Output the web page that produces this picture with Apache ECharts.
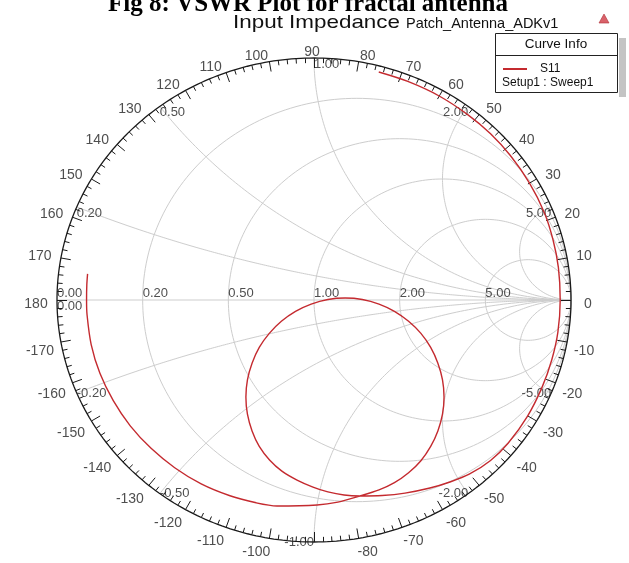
<!DOCTYPE html>
<html>
<head>
<meta charset="utf-8">
<script src="https://cdn.jsdelivr.net/npm/echarts@6/dist/echarts.min.js"></script>
<style>
  html, body { margin: 0; padding: 0; background: #ffffff; }
  #chart { width: 629px; height: 563px; }
</style>
</head>
<body>
<div id="chart"></div>
<script>
// Normalised resistance circles and reactance arcs of the Smith grid
const resistanceValues = [0.2, 0.5, 1, 2, 5];
const resistanceLabels = ['0.20', '0.50', '1.00', '2.00', '5.00'];
const reactanceValues = [0.2, 0.5, 1, 2, 5, -0.2, -0.5, -1, -2, -5];
const reactanceLabels = ['0.20', '0.50', '1.00', '2.00', '5.00', '-0.20', '-0.50', '-1.00', '-2.00', '-5.00'];
// Angle scale of the reflection coefficient (degrees)
const angleLabels = [0, 10, 20, 30, 40, 50, 60, 70, 80, 90, 100, 110, 120, 130, 140, 150, 160, 170, 180,
  -10, -20, -30, -40, -50, -60, -70, -80, -100, -110, -120, -130, -140, -150, -160, -170];

// S11 trace of Patch_Antenna_ADKv1 as reflection coefficient (real / imaginary)
const s11Re = [0.252, 0.365, 0.487, 0.598, 0.687, 0.764, 0.838, 0.896, 0.930, 0.951, 0.958, 0.949, 0.925, 0.888,
  0.831, 0.756, 0.687, 0.604, 0.529, 0.451, 0.354, 0.265, 0.179,
  0.117, 0.054, -0.004, -0.066, -0.125, -0.173, -0.213, -0.241, -0.259, -0.265, -0.259, -0.241, -0.213, -0.174, -0.127,
  -0.072, -0.011, 0.054, 0.121, 0.188, 0.253, 0.313, 0.368, 0.416, 0.454, 0.482, 0.500, 0.506, 0.500, 0.482,
  0.454, 0.416, 0.368, 0.313, 0.253, 0.179,
  0.093, 0.012, -0.144, -0.225, -0.327, -0.439, -0.542, -0.634, -0.715, -0.781, -0.833, -0.867, -0.883,
  -0.885, -0.884, -0.881];
const s11Im = [0.942, 0.903, 0.843, 0.766, 0.687, 0.597, 0.484, 0.362, 0.249, 0.134, 0.000, -0.133, -0.248, -0.359,
  -0.480, -0.591, -0.663, -0.720, -0.752, -0.777, -0.798, -0.808, -0.810,
  -0.806, -0.793, -0.773, -0.744, -0.707, -0.661, -0.605, -0.541, -0.472, -0.401, -0.330, -0.261, -0.196, -0.138, -0.088,
  -0.047, -0.017, 0.002, 0.008, 0.002, -0.017, -0.047, -0.088, -0.138, -0.196, -0.261, -0.330, -0.401, -0.472, -0.541,
  -0.605, -0.664, -0.714, -0.755, -0.785, -0.810,
  -0.835, -0.847, -0.851, -0.838, -0.809, -0.760, -0.693, -0.613, -0.520, -0.416, -0.303, -0.184, -0.062,
  0.000, 0.062, 0.108];

// Plot frame: the unit circle fills the cartesian grid
const plot = { left: 57, top: 58, width: 514, height: 484 };
const rx = plot.width / 2, ry = plot.height / 2;
const cx0 = plot.left + rx, cy0 = plot.top + ry;
const gridColor = '#cdcdcd';
const labelFont = 'Liberation Sans, Arial, sans-serif';

function gammaOf(r, x) {
  const d = (r + 1) * (r + 1) + x * x;
  return [(r * r - 1 + x * x) / d, 2 * x / d];
}
function circlePoints(cx, cy, rad, n) {
  const pts = [];
  for (let i = 0; i <= n; i++) {
    const a = 2 * Math.PI * i / n;
    pts.push([cx + rad * Math.cos(a), cy + rad * Math.sin(a)]);
  }
  return pts;
}
// constant-reactance arc from the rim (r = 0) to the open-circuit point
function reactanceArc(x, n) {
  const s = Math.sign(x), ax = Math.abs(x);
  const c = [1, 1 / ax], rad = 1 / ax;
  const rim = gammaOf(0, ax);
  let a0 = Math.atan2(rim[1] - c[1], rim[0] - c[0]);
  if (a0 < 0) a0 += 2 * Math.PI;
  const a1 = 1.5 * Math.PI;
  const pts = [];
  for (let i = 0; i <= n; i++) {
    const a = a0 + (a1 - a0) * i / n;
    pts.push([c[0] + rad * Math.cos(a), s * (c[1] + rad * Math.sin(a))]);
  }
  return pts;
}
function gridLine(data, color, width, z) {
  return {
    type: 'line', data: data, showSymbol: false, symbol: 'none', silent: true,
    animation: false, z: z || 1, clip: false,
    lineStyle: { color: color, width: width }
  };
}

const series = [];
resistanceValues.forEach(r => {
  series.push(gridLine(circlePoints(r / (1 + r), 0, 1 / (1 + r), 240), gridColor, 1));
});
reactanceValues.forEach(x => {
  series.push(gridLine(reactanceArc(x, 240), gridColor, 1));
});
series.push(gridLine([[-1, 0], [1, 0]], gridColor, 1));
series.push(gridLine(circlePoints(0, 0, 1, 360), '#1a1a1a', 1.3, 3));

// angle ticks every 2 degrees, longer every 10
const ticks = [];
for (let d = -180; d < 180; d += 2) {
  const a = d * Math.PI / 180;
  const len = d % 10 === 0 ? 10 : 5;
  const c = Math.cos(a), s = Math.sin(a);
  ticks.push({ coords: [[c, s], [c * (1 - len / rx), s * (1 - len / ry)]] });
}
series.push({
  type: 'lines', coordinateSystem: 'cartesian2d', data: ticks, silent: true, animation: false,
  z: 3, lineStyle: { color: '#1a1a1a', width: 1, opacity: 1 }
});

// angle scale labels outside the rim (text centres on a slightly wider ring)
const angleItems = angleLabels.map(d => {
  const a = d * Math.PI / 180;
  const c = Math.cos(a), s = Math.sin(a);
  const px = 312 + 276 * c + 8 * Math.sign(Math.round(c * 1000)) * s * s;
  const py = 304 - 252 * s - 4 * Math.sign(Math.round(s * 1000)) * c * c;
  return { name: String(d), value: [(px - cx0) / rx, (cy0 - py) / ry] };
});
series.push({
  type: 'scatter', data: angleItems, symbolSize: 1, itemStyle: { color: 'rgba(0,0,0,0)' },
  silent: true, animation: false, z: 4, clip: false,
  labelLayout: { hideOverlap: false },
  label: { show: true, position: 'inside', formatter: '{b}', color: '#222', fontSize: 14,
    fontFamily: labelFont, align: 'center', verticalAlign: 'middle' }
});

// resistance labels along the real axis
const resItems = resistanceValues.map((r, i) => ({
  name: resistanceLabels[i], value: [(r - 1) / (r + 1), 0],
  label: { align: 'left', verticalAlign: 'bottom', offset: [0, 1] }
}));
resItems.push({ name: '0.00', value: [-1, 0], label: { align: 'left', verticalAlign: 'bottom', offset: [-2, 1] } });
resItems.push({ name: '0.00', value: [-1, 0], label: { align: 'left', verticalAlign: 'top', offset: [-2, 4] } });
// reactance labels on the rim
const reactItems = reactanceValues.map((x, i) => {
  const g = gammaOf(0, x);
  const right = x > 1.5 || x < -0.9;
  return {
    name: reactanceLabels[i], value: g,
    label: {
      align: right ? 'right' : 'left',
      verticalAlign: x > 0 ? 'top' : 'middle',
      offset: [right ? -3 : -2, x > 0 ? 4 : -2]
    }
  };
});
series.push({
  type: 'scatter', data: resItems.concat(reactItems), symbolSize: 1, itemStyle: { color: 'rgba(0,0,0,0)' },
  silent: true, animation: false, z: 4, clip: false,
  labelLayout: { hideOverlap: false },
  label: { show: true, position: 'inside', formatter: '{b}', color: '#222', fontSize: 13, fontFamily: labelFont }
});

// S11 trace
series.push({
  type: 'line', name: 'S11', data: s11Re.map((v, i) => [v, s11Im[i]]),
  showSymbol: false, symbol: 'none', smooth: 0.3, animation: false, z: 5, clip: false,
  lineStyle: { color: '#c42a2f', width: 1.4 }
});

const chart = echarts.init(document.getElementById('chart'), null, { renderer: 'canvas' });
chart.setOption({
  backgroundColor: '#ffffff',
  animation: false,
  grid: { left: plot.left, top: plot.top, width: plot.width, height: plot.height, containLabel: false },
  xAxis: { type: 'value', min: -1, max: 1, show: false },
  yAxis: { type: 'value', min: -1, max: 1, show: false },
  series: series,
  graphic: [
    { type: 'text', x: 308, y: -8, style: { text: 'Fig 8: VSWR Plot for fractal antenna', align: 'center',
      font: 'bold 25px "Liberation Serif", "Times New Roman", serif', fill: '#000' } },
    { type: 'text', x: 233, y: 13, scaleX: 1.18, style: { text: 'Input Impedance',
      font: '19px "Liberation Sans", Arial, sans-serif', fill: '#111' } },
    { type: 'text', x: 406, y: 16, style: { text: 'Patch_Antenna_ADKv1',
      font: '14.5px "Liberation Sans", Arial, sans-serif', fill: '#111' } },
    { type: 'polygon', shape: { points: [[604, 14], [599, 23], [609, 23]] },
      style: { fill: '#d9626a', stroke: '#b03038', lineWidth: 0.6 } },
    // curve info box
    { type: 'rect', shape: { x: 619, y: 38, width: 7, height: 59 }, style: { fill: '#c4c4c4' } },
    { type: 'rect', shape: { x: 495.5, y: 33.5, width: 122, height: 59 },
      style: { fill: '#ffffff', stroke: '#222', lineWidth: 1 } },
    { type: 'line', shape: { x1: 496, y1: 55.5, x2: 617, y2: 55.5 }, style: { stroke: '#222', lineWidth: 1 } },
    { type: 'text', x: 556, y: 44, style: { text: 'Curve Info', align: 'center', verticalAlign: 'middle',
      font: '13.5px "Liberation Sans", Arial, sans-serif', fill: '#111' } },
    { type: 'line', shape: { x1: 503, y1: 69, x2: 527, y2: 69 }, style: { stroke: '#c42a2f', lineWidth: 2 } },
    { type: 'text', x: 540, y: 69, style: { text: 'S11', verticalAlign: 'middle',
      font: '12px "Liberation Sans", Arial, sans-serif', fill: '#111' } },
    { type: 'text', x: 502, y: 83, style: { text: 'Setup1 : Sweep1', verticalAlign: 'middle',
      font: '12px "Liberation Sans", Arial, sans-serif', fill: '#111' } }
  ]
});
</script>
</body>
</html>
